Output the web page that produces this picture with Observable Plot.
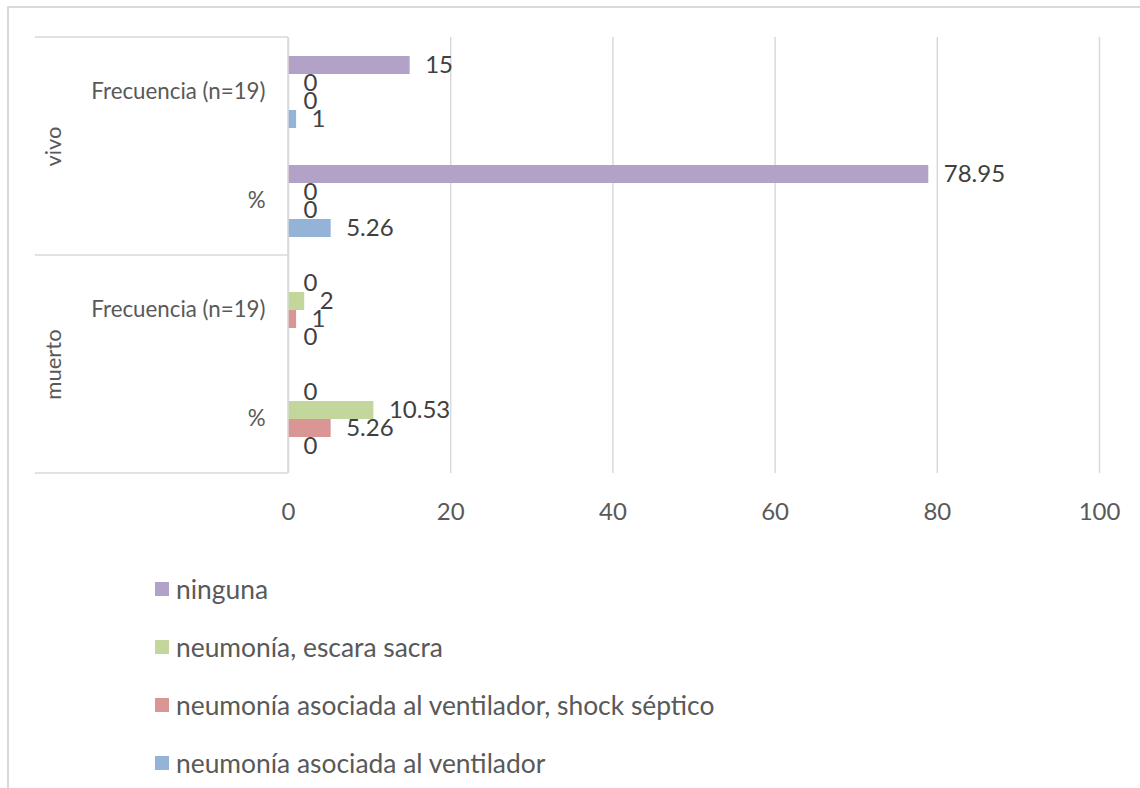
<!DOCTYPE html>
<html>
<head>
<meta charset="utf-8">
<script src="https://cdn.jsdelivr.net/npm/d3@7"></script>
<script src="https://cdn.jsdelivr.net/npm/@observablehq/plot@0.6"></script>
<style>
  html, body { margin: 0; padding: 0; background: #fff; overflow: hidden; width: 1140px; height: 788px; }
  #frame { position: absolute; left: 7px; top: 6px; width: 1300px; height: 900px;
           border-left: 2px solid #d9d9d9; border-top: 2px solid #d9d9d9; }
  #chart { position: absolute; left: 0; top: 0; }
  #legend { position: absolute; left: 155px; top: 560px; font-family: Lato, sans-serif; font-size: 26.4px; color: #595959; }
  .item { height: 58px; display: flex; align-items: center; white-space: nowrap; }
  .sw { width: 14px; height: 14px; margin-right: 7px; flex: none; }
</style>
</head>
<body>
<div id="frame"></div>
<div id="chart"></div>
<div id="legend"></div>
<script>
// ---- data ----
const groups = ["vivo", "muerto"];
const measures = ["Frecuencia (n=19)", "%"];
const series = [
  "ninguna",
  "neumonía, escara sacra",
  "neumonía asociada al ventilador, shock séptico",
  "neumonía asociada al ventilador"
];
const colors = ["#B3A2C7", "#C3D69B", "#D99694", "#95B3D7"];
const vivoFrecuencia = [15, 0, 0, 1];
const vivoPorcentaje = [78.95, 0, 0, 5.26];
const muertoFrecuencia = [0, 2, 1, 0];
const muertoPorcentaje = [0, 10.53, 5.26, 0];
const xTicks = [0, 20, 40, 60, 80, 100];

// ---- table ----
const valuesByRow = {
  "vivo|Frecuencia (n=19)": vivoFrecuencia,
  "vivo|%": vivoPorcentaje,
  "muerto|Frecuencia (n=19)": muertoFrecuencia,
  "muerto|%": muertoPorcentaje
};
const rowKeys = [];
groups.forEach(g => measures.forEach(m => rowKeys.push(g + "|" + m)));
const data = [];
rowKeys.forEach(r => series.forEach((s, i) => data.push({row: r, series: s, value: valuesByRow[r][i]})));
const groupLabels = groups.map(g => ({group: g, row: g + "|" + measures[0]}));

const chart = Plot.plot({
  width: 1140,
  height: 540,
  marginLeft: 288,
  marginRight: 41,
  marginTop: 36,
  marginBottom: 67,
  style: {fontFamily: "Lato, sans-serif", background: "transparent", overflow: "visible"},
  x: {domain: [0, 100], axis: null},
  y: {domain: series, paddingInner: 0, paddingOuter: 0.93, axis: null},
  fy: {domain: rowKeys, padding: 0, axis: null},
  color: {domain: series, range: colors},
  marks: [
    Plot.gridX(xTicks, {stroke: "#d9d9d9", strokeOpacity: 1, strokeWidth: 1.5}),
    Plot.axisX(xTicks, {tickSize: 0, tickPadding: 29, fontSize: 24, fill: "#595959", label: null}),
    Plot.axisFy({anchor: "left", tickSize: 0, tickPadding: 23, fontSize: 22.3, fill: "#595959",
                 tickFormat: d => d.split("|")[1], label: null}),
    Plot.barX(data, {fy: "row", y: "series", x: "value", fill: "series"}),
    Plot.text(data, {fy: "row", y: "series", x: "value", text: d => String(d.value),
                     textAnchor: "start", dx: 15, fontSize: 24, fill: "#404040"}),
    Plot.text(groupLabels, {fy: "row", text: "group", frameAnchor: "bottom-left", rotate: -90,
                            textAnchor: "middle", lineAnchor: "middle", dx: -235, fontSize: 22, fill: "#595959"})
  ]
});
document.getElementById("chart").appendChild(chart);

// hierarchical category-axis frame lines, positioned from Plot's own scales
const fyScale = chart.scale("fy");
const xScale = chart.scale("x");
const xStart = xScale.range[0];
const bandW = fyScale.bandwidth;
const yTop = fyScale.apply(rowKeys[0]);
const yBottom = fyScale.apply(rowKeys[rowKeys.length - 1]) + bandW;
const yMid = fyScale.apply("muerto|" + measures[0]);
const svgSel = d3.select(chart);
const lines = svgSel.append("g").attr("stroke", "#d9d9d9").attr("stroke-width", 1.5);
[yTop, yMid, yBottom].forEach(y => lines.append("line").attr("x1", 35).attr("x2", xStart).attr("y1", y).attr("y2", y));
lines.append("line").attr("x1", xStart).attr("x2", xStart).attr("y1", yTop).attr("y2", yBottom);

// legend
const legendSel = d3.select("#legend");
series.forEach((s, i) => {
  const it = legendSel.append("div").attr("class", "item");
  it.append("div").attr("class", "sw").style("background", colors[i]);
  it.append("span").text(s);
});
</script>
</body>
</html>
